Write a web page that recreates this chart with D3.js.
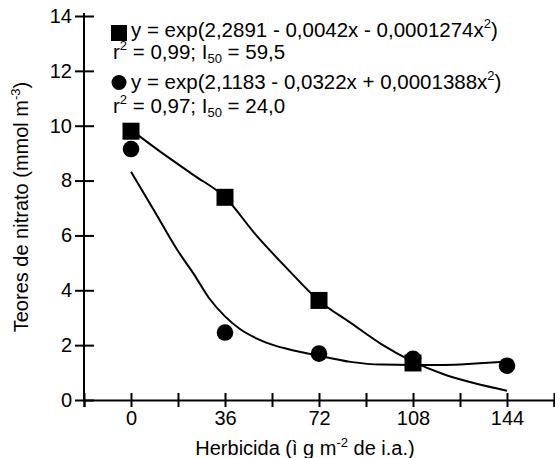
<!DOCTYPE html>
<html>
<head>
<meta charset="utf-8">
<script src="https://cdn.jsdelivr.net/npm/d3@7"></script>
<style>
  body { margin: 0; background: #fff; }
  svg { display: block; font-family: "Liberation Sans", Arial, sans-serif; }
  .axis path, .axis line { stroke: #000; stroke-width: 2; }
  .axis text { font-size: 20px; fill: #000; font-family: "Liberation Sans", Arial, sans-serif; }
</style>
</head>
<body>
<svg id="chart" width="555" height="458"></svg>
<script>
// doses (x) and measured points
const doses = [0, 36, 72, 108, 144];
const squareVals = [9.8, 7.39, 3.63, 1.35];
const circleVals = [9.15, 2.46, 1.69, 1.5, 1.25];

// fitted curves
const squareCurveX = [0, 12, 24, 36, 48, 60, 72, 84, 96, 108, 120, 132, 144];
const squareCurveY = [9.85, 9.0, 8.2, 7.39, 6.0, 4.77, 3.62, 2.82, 2.03, 1.4, 0.93, 0.6, 0.34];
const circleCurveX = [0, 9, 18, 24, 30, 36, 42, 48, 54, 60, 72, 84, 96, 108, 120, 132, 144];
const circleCurveY = [8.32, 6.88, 5.43, 4.6, 3.7, 3.05, 2.57, 2.25, 2.02, 1.86, 1.61, 1.39, 1.29, 1.28, 1.28, 1.33, 1.4];

const xTicks = [-18, 0, 18, 36, 54, 72, 90, 108, 126, 144, 162];
const xLabels = [0, 36, 72, 108, 144];
const yTicks = [0, 2, 4, 6, 8, 10, 12, 14];

const svg = d3.select('#chart');

const x = d3.scaleLinear().domain([-18, 162]).range([84, 554]);
const y = d3.scaleLinear().domain([0, 14]).range([400, 16]);

// y axis, ticks cross the line
const yAxisG = svg.append('g')
    .attr('class', 'axis')
    .attr('transform', `translate(${x(-18)},0)`)
    .call(d3.axisLeft(y).tickValues(yTicks).tickSizeOuter(0).tickSize(9).tickPadding(3));
yAxisG.selectAll('.tick line').attr('x1', -9).attr('x2', 10);
yAxisG.select('.domain').attr('d', `M0,${y(14) - 3}V${y(0)}`);

// x axis
const xAxisG = svg.append('g')
    .attr('class', 'axis')
    .attr('transform', `translate(0,${y(0)})`)
    .call(d3.axisBottom(x).tickValues(xTicks).tickSizeOuter(0).tickSize(7).tickPadding(4)
      .tickFormat(d => xLabels.includes(d) ? d : ''));
xAxisG.selectAll('.tick line').attr('y1', -7).attr('y2', 7);

// curves
const line = d3.line().x(d => x(d[0])).y(d => y(d[1])).curve(d3.curveMonotoneX);
svg.append('path')
    .datum(d3.zip(squareCurveX, squareCurveY))
    .attr('d', line)
    .attr('fill', 'none').attr('stroke', '#000').attr('stroke-width', 2);
svg.append('path')
    .datum(d3.zip(circleCurveX, circleCurveY))
    .attr('d', line)
    .attr('fill', 'none').attr('stroke', '#000').attr('stroke-width', 2);

// markers
const sq = 17;
svg.selectAll('.sq')
    .data(d3.zip(doses.slice(0, squareVals.length), squareVals))
    .join('rect')
    .attr('x', d => x(d[0]) - sq / 2)
    .attr('y', d => y(d[1]) - sq / 2)
    .attr('width', sq).attr('height', sq)
    .attr('fill', '#000');
svg.selectAll('.ci')
    .data(d3.zip(doses, circleVals))
    .join('circle')
    .attr('cx', d => x(d[0]))
    .attr('cy', d => y(d[1]))
    .attr('r', 8.3)
    .attr('fill', '#000');

// legend
const leg = svg.append('g').style('font-size', '20.5px');
leg.append('rect').attr('x', 111).attr('y', 25).attr('width', 16).attr('height', 16);
leg.append('circle').attr('cx', 119).attr('cy', 82.5).attr('r', 7.5);

function eqLine(yPos, a, b, c) {
  const t = leg.append('text').attr('x', 131).attr('y', yPos);
  t.append('tspan').text(`y = exp(${a} ${b} ${c}x`);
  t.append('tspan').attr('dy', -9).style('font-size', '13px').text('2');
  t.append('tspan').attr('dy', 9).text(')');
}
function statLine(yPos, r2, i50) {
  const t = leg.append('text').attr('x', 113).attr('y', yPos);
  t.append('tspan').text('r');
  t.append('tspan').attr('dy', -9).style('font-size', '13px').text('2');
  t.append('tspan').attr('dy', 9).text(` = ${r2}; I`);
  t.append('tspan').attr('dy', 4).style('font-size', '13px').text('50');
  t.append('tspan').attr('dy', -4).text(` = ${i50}`);
}
eqLine(37, '2,2891', '- 0,0042x', '- 0,0001274');
statLine(59, '0,99', '59,5');
eqLine(89, '2,1183', '- 0,0322x', '+ 0,0001388');
statLine(113, '0,97', '24,0');

// axis titles
const yt = svg.append('text')
    .attr('transform', `translate(28,207) rotate(-90)`)
    .attr('text-anchor', 'middle')
    .style('font-size', '20px');
yt.append('tspan').text('Teores de nitrato (mmol m');
yt.append('tspan').attr('dy', -8).style('font-size', '13px').text('-3');
yt.append('tspan').attr('dy', 8).text(')');

const xt = svg.append('text')
    .attr('x', 305).attr('y', 455)
    .attr('text-anchor', 'middle')
    .style('font-size', '20px');
xt.append('tspan').text('Herbicida (ì g m');
xt.append('tspan').attr('dy', -8).style('font-size', '13px').text('-2');
xt.append('tspan').attr('dy', 8).text(' de i.a.)');
</script>
</body>
</html>
